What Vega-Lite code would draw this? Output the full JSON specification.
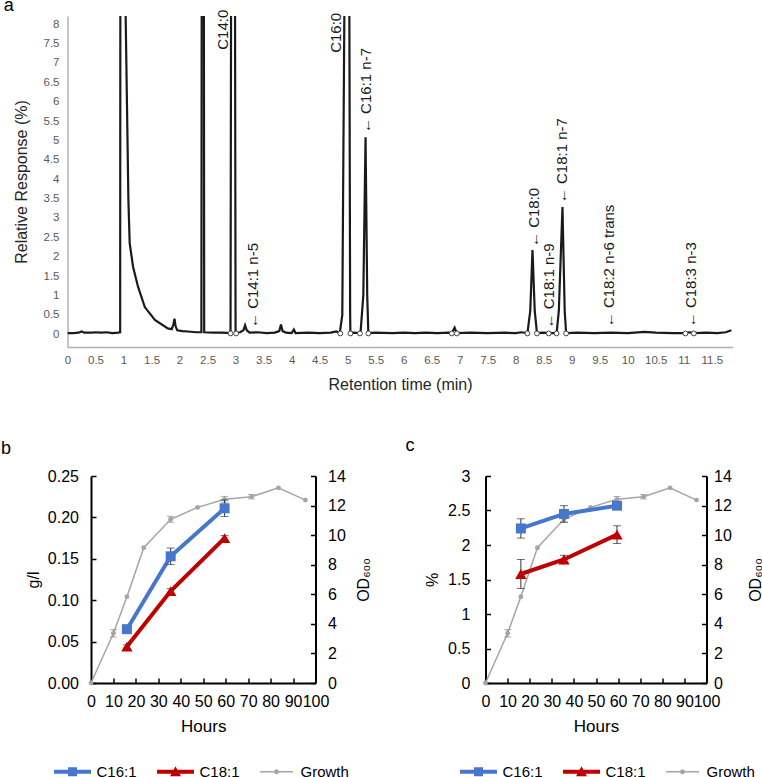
{
  "$schema": "https://vega.github.io/schema/vega-lite/v6.json",
  "padding": {"left": 0.5, "top": -4, "right": 0, "bottom": 0},
  "config": {
    "font": "Liberation Sans",
    "view": {"stroke": null},
    "axis": {"labelFont": "Liberation Sans", "titleFont": "Liberation Sans", "grid": false},
    "title": {"font": "Liberation Sans", "fontWeight": "normal", "color": "black"},
    "text": {"font": "Liberation Sans"},
    "legend": {"labelFont": "Liberation Sans"}
  },
  "datasets": {
    "trace": [
      {"t":0,"r":0.03},{"t":0.1,"r":0.03},{"t":0.2,"r":0.04},{"t":0.25,"r":0.07},{"t":0.3,"r":0.04},{"t":0.45,"r":0.04},{"t":0.5,"r":0.05},{"t":0.6,"r":0.04},{"t":0.7,"r":0.05},{"t":0.8,"r":0.03},{"t":0.9,"r":0.04},{"t":0.94,"r":0.05},
      {"t":0.955,"r":40},{"t":1.0,"r":40},{"t":1.03,"r":9},{"t":1.087,"r":3.46},{"t":1.11,"r":2.35},{"t":1.17,"r":1.74},{"t":1.26,"r":1.22},{"t":1.38,"r":0.7},{"t":1.56,"r":0.37},{"t":1.79,"r":0.15},{"t":1.86,"r":0.13},{"t":1.89,"r":0.25},{"t":1.91,"r":0.4},{"t":1.93,"r":0.2},{"t":1.96,"r":0.1},{"t":2.05,"r":0.08},{"t":2.15,"r":0.07},{"t":2.3,"r":0.05},
      {"t":2.39,"r":0.05},{"t":2.415,"r":40},{"t":2.44,"r":0.05},{"t":2.6,"r":0.04},{"t":2.75,"r":0.04},{"t":2.91,"r":0.03},{"t":2.955,"r":40},{"t":3.0,"r":0.03},{"t":3.08,"r":0.05},{"t":3.14,"r":0.1},{"t":3.17,"r":0.23},{"t":3.2,"r":0.1},{"t":3.25,"r":0.04},{"t":3.4,"r":0.05},{"t":3.55,"r":0.03},{"t":3.7,"r":0.04},{"t":3.78,"r":0.08},{"t":3.81,"r":0.25},{"t":3.84,"r":0.08},{"t":3.9,"r":0.04},{"t":4.0,"r":0.03},{"t":4.04,"r":0.12},{"t":4.07,"r":0.03},{"t":4.3,"r":0.04},{"t":4.5,"r":0.03},{"t":4.7,"r":0.04},{"t":4.8,"r":0.07},{"t":4.86,"r":0.03},
      {"t":4.905,"r":0.5},{"t":4.945,"r":9},{"t":5.0,"r":40},{"t":5.03,"r":9},{"t":5.045,"r":0.5},{"t":5.05,"r":0.03},{"t":5.1,"r":0.04},{"t":5.23,"r":0.03},{"t":5.28,"r":1.0},{"t":5.32,"r":5.08},{"t":5.35,"r":1.0},{"t":5.37,"r":0.03},{"t":5.5,"r":0.04},{"t":5.8,"r":0.03},{"t":6.0,"r":0.04},{"t":6.2,"r":0.03},{"t":6.4,"r":0.04},{"t":6.6,"r":0.03},{"t":6.8,"r":0.04},{"t":6.86,"r":0.03},{"t":6.91,"r":0.17},{"t":6.95,"r":0.03},{"t":7.2,"r":0.04},{"t":7.5,"r":0.03},{"t":7.8,"r":0.04},{"t":8.0,"r":0.03},{"t":8.1,"r":0.05},
      {"t":8.21,"r":0.03},{"t":8.26,"r":0.6},{"t":8.30,"r":2.17},{"t":8.34,"r":0.6},{"t":8.38,"r":0.03},{"t":8.5,"r":0.04},{"t":8.59,"r":0.03},{"t":8.73,"r":0.03},{"t":8.77,"r":0.6},{"t":8.835,"r":3.28},{"t":8.875,"r":0.6},{"t":8.9,"r":0.03},{"t":9.1,"r":0.04},{"t":9.4,"r":0.03},{"t":9.7,"r":0.04},{"t":10.0,"r":0.03},{"t":10.3,"r":0.06},{"t":10.5,"r":0.04},{"t":10.8,"r":0.03},{"t":11.03,"r":0.03},{"t":11.1,"r":0.05},{"t":11.18,"r":0.03},{"t":11.4,"r":0.04},{"t":11.6,"r":0.03},{"t":11.75,"r":0.05},{"t":11.85,"r":0.1}
    ],
    "marks": [
      {"t":2.91,"r":0.02},{"t":3.01,"r":0.02},{"t":4.87,"r":0.02},{"t":5.05,"r":0.02},{"t":5.22,"r":0.02},{"t":5.37,"r":0.02},{"t":6.86,"r":0.02},{"t":6.95,"r":0.02},{"t":8.21,"r":0.02},{"t":8.38,"r":0.02},{"t":8.59,"r":0.02},{"t":8.73,"r":0.02},{"t":8.9,"r":0.02},{"t":11.03,"r":0.02},{"t":11.18,"r":0.02}
    ],
    "labels": [
      {"t":2.775,"r":7.34,"l":"C14:0"},
      {"t":4.795,"r":7.26,"l":"C16:0"},
      {"t":5.33,"r":5.19,"l":"← C16:1 n-7"},
      {"t":3.31,"r":0.16,"l":"← C14:1 n-5"},
      {"t":8.32,"r":2.25,"l":"← C18:0"},
      {"t":8.59,"r":0.15,"l":"← C18:1 n-9"},
      {"t":8.83,"r":3.38,"l":"← C18:1 n-7"},
      {"t":9.66,"r":0.18,"l":"← C18:2 n-6 trans"},
      {"t":11.13,"r":0.18,"l":"← C18:3 n-3"}
    ],
    "growth": [
      {"s":"Growth","h":0,"v":0},
      {"s":"Growth","h":10,"v":3.36,"lo":3.11,"hi":3.61},
      {"s":"Growth","h":16,"v":5.84},
      {"s":"Growth","h":23.5,"v":9.15},
      {"s":"Growth","h":35.5,"v":11.07,"lo":10.87,"hi":11.27},
      {"s":"Growth","h":47.5,"v":11.88},
      {"s":"Growth","h":59.5,"v":12.42,"lo":12.22,"hi":12.62},
      {"s":"Growth","h":71.5,"v":12.6,"lo":12.45,"hi":12.75},
      {"s":"Growth","h":83.5,"v":13.2},
      {"s":"Growth","h":95.5,"v":12.37}
    ],
    "fab": [
      {"s":"C16:1","h":16,"v":0.065,"lo":0.062,"hi":0.068},
      {"s":"C16:1","h":35.5,"v":0.153,"lo":0.143,"hi":0.163},
      {"s":"C16:1","h":59.5,"v":0.211,"lo":0.201,"hi":0.221},
      {"s":"C18:1","h":16,"v":0.044,"lo":0.042,"hi":0.046},
      {"s":"C18:1","h":35.5,"v":0.111,"lo":0.108,"hi":0.114},
      {"s":"C18:1","h":59.5,"v":0.175,"lo":0.172,"hi":0.178}
    ],
    "fac": [
      {"s":"C16:1","h":16,"v":2.24,"lo":2.10,"hi":2.38},
      {"s":"C16:1","h":35.5,"v":2.45,"lo":2.33,"hi":2.57},
      {"s":"C16:1","h":59.5,"v":2.57,"lo":2.53,"hi":2.61},
      {"s":"C18:1","h":16,"v":1.58,"lo":1.37,"hi":1.79},
      {"s":"C18:1","h":35.5,"v":1.79,"lo":1.73,"hi":1.85},
      {"s":"C18:1","h":59.5,"v":2.15,"lo":2.02,"hi":2.28}
    ]
  },
  "bounds": "flush",
  "spacing": 129,
  "vconcat": [
    {
      "width": 665,
      "height": 331,
      "title": {"text": "a", "anchor": "start", "frame": "group", "dx": -63.7, "offset": -19, "baseline": "alphabetic", "fontSize": 18},
      "encoding": {
        "x": {"field": "t", "type": "quantitative", "scale": {"domain": [0, 11.87], "nice": false},
          "axis": {"values": [0,0.5,1,1.5,2,2.5,3,3.5,4,4.5,5,5.5,6,6.5,7,7.5,8,8.5,9,9.5,10,10.5,11,11.5], "format": "~g", "ticks": false, "domainColor": "#b0b0b0", "domainWidth": 1.5, "labelColor": "#595959", "labelFontSize": 11.5, "labelPadding": 7, "labelFlush": false, "labelOverlap": false, "title": "Retention time (min)", "titleFontSize": 16, "titleFontWeight": "normal", "titleColor": "#262626", "titlePadding": 11}},
        "y": {"field": "r", "type": "quantitative", "scale": {"domain": [-0.33, 8.21], "nice": false, "zero": false},
          "axis": {"values": [0,0.5,1,1.5,2,2.5,3,3.5,4,4.5,5,5.5,6,6.5,7,7.5,8], "format": "~g", "ticks": false, "domainColor": "#b0b0b0", "domainWidth": 1.5, "labelColor": "#595959", "labelFontSize": 11.5, "labelPadding": 8.5, "labelOverlap": false, "title": "Relative Response (%)", "titleFontSize": 16, "titleFontWeight": "normal", "titleColor": "#262626", "titlePadding": 14}}
      },
      "layer": [
        {"data": {"name": "trace"}, "mark": {"type": "line", "color": "#1a1a1a", "strokeWidth": 2.2, "clip": true}},
        {"data": {"name": "marks"}, "mark": {"type": "point", "shape": "circle", "filled": true, "fill": "white", "stroke": "#444444", "strokeWidth": 1, "size": 24, "opacity": 1}},
        {"data": {"name": "labels"}, "mark": {"type": "text", "angle": 270, "align": "left", "baseline": "middle", "fontSize": 15, "color": "#1a1a1a"}, "encoding": {"text": {"field": "l", "type": "nominal"}}}
      ]
    },
    {
      "hconcat": [
        {
          "width": 248,
          "height": 207,
          "title": {"text": "b", "anchor": "start", "frame": "group", "dx": -66.5, "offset": -4, "baseline": "alphabetic", "fontSize": 18},
          "encoding": {
            "x": {"field": "h", "type": "quantitative", "scale": {"domain": [0, 100], "range": [23.5, 248], "nice": false},
              "axis": {"values": [0,10,20,30,40,50,60,70,80,90,100], "tickSize": -5, "tickWidth": 1.5, "tickColor": "black", "domainColor": "black", "domainWidth": 2, "labelFontSize": 16, "labelColor": "black", "labelPadding": 15.5, "labelFlush": false, "labelOverlap": false, "title": "Hours", "titleFontSize": 17, "titleFontWeight": "normal", "titleColor": "black", "titlePadding": 9}}
          },
          "layer": [
            {
              "data": {"name": "growth"},
              "encoding": {"y": {"field": "v", "type": "quantitative", "scale": {"domain": [0, 14], "nice": false},
                "axis": {"orient": "right", "values": [0,2,4,6,8,10,12,14], "tickSize": -5, "tickWidth": 1.5, "tickColor": "black", "domainColor": "black", "domainWidth": 2, "labelFontSize": 16, "labelColor": "black", "labelPadding": 17, "title": "OD₆₀₀", "titleAngle": 270, "titleBaseline": "top", "titleFontSize": 16, "titleFontWeight": "normal", "titleColor": "black", "titlePadding": 10}}},
              "layer": [
                {"mark": {"type": "line", "color": "#a5a5a5", "strokeWidth": 1.5}},
                {"transform": [{"filter": "isValid(datum.lo)"}], "mark": {"type": "errorbar", "ticks": true, "size": 7, "thickness": 1, "color": "#8c8c8c"},
                  "encoding": {"y": {"field": "lo", "type": "quantitative", "scale": {"domain": [0, 14], "nice": false},
                    "axis": {"orient": "right", "values": [0,2,4,6,8,10,12,14], "tickSize": -5, "tickWidth": 1.5, "tickColor": "black", "domainColor": "black", "domainWidth": 2, "labelFontSize": 16, "labelColor": "black", "labelPadding": 17, "title": "OD₆₀₀", "titleAngle": 270, "titleBaseline": "top", "titleFontSize": 16, "titleFontWeight": "normal", "titleColor": "black", "titlePadding": 10}},
                    "y2": {"field": "hi"}}},
                {"mark": {"type": "circle", "color": "#a5a5a5", "size": 24, "opacity": 1}}
              ]
            },
            {
              "data": {"name": "fab"},
              "encoding": {"y": {"field": "v", "type": "quantitative", "scale": {"domain": [0, 0.25], "nice": false},
                "axis": {"orient": "left", "offset": -23.5, "values": [0,0.05,0.1,0.15,0.2,0.25], "format": ".2f", "tickSize": -5, "tickWidth": 1.5, "tickColor": "black", "domainColor": "black", "domainWidth": 2, "labelFontSize": 16, "labelColor": "black", "labelPadding": 17.5, "title": "g/l", "titleFontSize": 16, "titleFontWeight": "normal", "titleColor": "black", "titlePadding": 6}}},
              "layer": [
                {"transform": [{"filter": "datum.s === 'C16:1'"}], "mark": {"type": "line", "color": "#4677cc", "strokeWidth": 4}},
                {"transform": [{"filter": "datum.s === 'C18:1'"}], "mark": {"type": "line", "color": "#c00000", "strokeWidth": 4}},
                {"mark": {"type": "errorbar", "ticks": true, "size": 8, "thickness": 1, "color": "#333333"},
                  "encoding": {"y": {"field": "lo", "type": "quantitative", "scale": {"domain": [0, 0.25], "nice": false},
                    "axis": {"orient": "left", "offset": -23.5, "values": [0,0.05,0.1,0.15,0.2,0.25], "format": ".2f", "tickSize": -5, "tickWidth": 1.5, "tickColor": "black", "domainColor": "black", "domainWidth": 2, "labelFontSize": 16, "labelColor": "black", "labelPadding": 17.5, "title": "g/l", "titleFontSize": 16, "titleFontWeight": "normal", "titleColor": "black", "titlePadding": 6}},
                    "y2": {"field": "hi"}}},
                {"transform": [{"filter": "datum.s === 'C16:1'"}], "mark": {"type": "square", "color": "#4677cc", "size": 100, "opacity": 1}},
                {"transform": [{"filter": "datum.s === 'C18:1'"}], "mark": {"type": "point", "shape": "triangle-up", "filled": true, "color": "#c00000", "size": 130, "opacity": 1}}
              ]
            },
            {
              "data": {"values": []},
              "mark": {"type": "point", "filled": true, "opacity": 1},
              "encoding": {
                "color": {"field": "s", "type": "nominal", "scale": {"domain": ["C16:1", "C18:1", "Growth"], "range": ["#4677cc", "#c00000", "#a5a5a5"]},
                  "legend": {"orient": "none", "legendX": -2.5, "legendY": 288, "direction": "horizontal", "title": null, "labelFontSize": 15, "labelColor": "black", "symbolSize": 100, "symbolStrokeWidth": 0, "symbolOpacity": 1, "labelOffset": 16.5, "columnPadding": 20, "padding": 0}},
                "shape": {"field": "s", "type": "nominal", "scale": {"domain": ["C16:1", "C18:1", "Growth"], "range": ["M-3.7,-0.4H3.7V0.4H-3.7Z M-0.9,-0.9H0.9V0.9H-0.9Z", "M-3.7,-0.4H3.7V0.4H-3.7Z M0,-1.1L1.1,0.9H-1.1Z", "M-3.3,-0.14H3.3V0.14H-3.3Z M0.5,0A0.5,0.5 0 1,1 -0.5,0A0.5,0.5 0 1,1 0.5,0Z"]},
                  "legend": {"orient": "none", "legendX": -2.5, "legendY": 288, "direction": "horizontal", "title": null, "labelFontSize": 15, "labelColor": "black", "symbolSize": 100, "symbolStrokeWidth": 0, "symbolOpacity": 1, "labelOffset": 16.5, "columnPadding": 20, "padding": 0}}
              }
            }
          ],
          "resolve": {"scale": {"y": "independent"}, "axis": {"y": "independent"}}
        },
        {
          "width": 221,
          "height": 207,
          "title": {"text": "c", "anchor": "start", "frame": "group", "dx": -80, "offset": -1, "baseline": "alphabetic", "fontSize": 18},
          "encoding": {
            "x": {"field": "h", "type": "quantitative", "scale": {"domain": [0, 100], "nice": false},
              "axis": {"values": [0,10,20,30,40,50,60,70,80,90,100], "tickSize": -5, "tickWidth": 1.5, "tickColor": "black", "domainColor": "black", "domainWidth": 2, "labelFontSize": 16, "labelColor": "black", "labelPadding": 15.5, "labelFlush": false, "labelOverlap": false, "title": "Hours", "titleFontSize": 17, "titleFontWeight": "normal", "titleColor": "black", "titlePadding": 9}}
          },
          "layer": [
            {
              "data": {"name": "growth"},
              "encoding": {"y": {"field": "v", "type": "quantitative", "scale": {"domain": [0, 14], "nice": false},
                "axis": {"orient": "right", "values": [0,2,4,6,8,10,12,14], "tickSize": -5, "tickWidth": 1.5, "tickColor": "black", "domainColor": "black", "domainWidth": 2, "labelFontSize": 16, "labelColor": "black", "labelPadding": 12, "title": "OD₆₀₀", "titleAngle": 270, "titleBaseline": "top", "titleFontSize": 16, "titleFontWeight": "normal", "titleColor": "black", "titlePadding": 16}}},
              "layer": [
                {"mark": {"type": "line", "color": "#a5a5a5", "strokeWidth": 1.5}},
                {"transform": [{"filter": "isValid(datum.lo)"}], "mark": {"type": "errorbar", "ticks": true, "size": 7, "thickness": 1, "color": "#8c8c8c"},
                  "encoding": {"y": {"field": "lo", "type": "quantitative", "scale": {"domain": [0, 14], "nice": false},
                    "axis": {"orient": "right", "values": [0,2,4,6,8,10,12,14], "tickSize": -5, "tickWidth": 1.5, "tickColor": "black", "domainColor": "black", "domainWidth": 2, "labelFontSize": 16, "labelColor": "black", "labelPadding": 12, "title": "OD₆₀₀", "titleAngle": 270, "titleBaseline": "top", "titleFontSize": 16, "titleFontWeight": "normal", "titleColor": "black", "titlePadding": 16}},
                    "y2": {"field": "hi"}}},
                {"mark": {"type": "circle", "color": "#a5a5a5", "size": 24, "opacity": 1}}
              ]
            },
            {
              "data": {"name": "fac"},
              "encoding": {"y": {"field": "v", "type": "quantitative", "scale": {"domain": [0, 3], "nice": false},
                "axis": {"orient": "left", "values": [0,0.5,1,1.5,2,2.5,3], "format": "~g", "tickSize": -5, "tickWidth": 1.5, "tickColor": "black", "domainColor": "black", "domainWidth": 2, "labelFontSize": 16, "labelColor": "black", "labelPadding": 20.7, "title": "%", "titleFontSize": 16, "titleFontWeight": "normal", "titleColor": "black", "titlePadding": 7}}},
              "layer": [
                {"transform": [{"filter": "datum.s === 'C16:1'"}], "mark": {"type": "line", "color": "#4677cc", "strokeWidth": 4}},
                {"transform": [{"filter": "datum.s === 'C18:1'"}], "mark": {"type": "line", "color": "#c00000", "strokeWidth": 4}},
                {"mark": {"type": "errorbar", "ticks": true, "size": 8, "thickness": 1, "color": "#333333"},
                  "encoding": {"y": {"field": "lo", "type": "quantitative", "scale": {"domain": [0, 3], "nice": false},
                    "axis": {"orient": "left", "values": [0,0.5,1,1.5,2,2.5,3], "format": "~g", "tickSize": -5, "tickWidth": 1.5, "tickColor": "black", "domainColor": "black", "domainWidth": 2, "labelFontSize": 16, "labelColor": "black", "labelPadding": 20.7, "title": "%", "titleFontSize": 16, "titleFontWeight": "normal", "titleColor": "black", "titlePadding": 7}},
                    "y2": {"field": "hi"}}},
                {"transform": [{"filter": "datum.s === 'C16:1'"}], "mark": {"type": "square", "color": "#4677cc", "size": 100, "opacity": 1}},
                {"transform": [{"filter": "datum.s === 'C18:1'"}], "mark": {"type": "point", "shape": "triangle-up", "filled": true, "color": "#c00000", "size": 130, "opacity": 1}}
              ]
            },
            {
              "data": {"values": []},
              "mark": {"type": "point", "filled": true, "opacity": 1},
              "encoding": {
                "color": {"field": "s", "type": "nominal", "scale": {"domain": ["C16:1", "C18:1", "Growth"], "range": ["#4677cc", "#c00000", "#a5a5a5"]},
                  "legend": {"orient": "none", "legendX": -14.5, "legendY": 288, "direction": "horizontal", "title": null, "labelFontSize": 15, "labelColor": "black", "symbolSize": 100, "symbolStrokeWidth": 0, "symbolOpacity": 1, "labelOffset": 16.5, "columnPadding": 20, "padding": 0}},
                "shape": {"field": "s", "type": "nominal", "scale": {"domain": ["C16:1", "C18:1", "Growth"], "range": ["M-3.7,-0.4H3.7V0.4H-3.7Z M-0.9,-0.9H0.9V0.9H-0.9Z", "M-3.7,-0.4H3.7V0.4H-3.7Z M0,-1.1L1.1,0.9H-1.1Z", "M-3.3,-0.14H3.3V0.14H-3.3Z M0.5,0A0.5,0.5 0 1,1 -0.5,0A0.5,0.5 0 1,1 0.5,0Z"]},
                  "legend": {"orient": "none", "legendX": -14.5, "legendY": 288, "direction": "horizontal", "title": null, "labelFontSize": 15, "labelColor": "black", "symbolSize": 100, "symbolStrokeWidth": 0, "symbolOpacity": 1, "labelOffset": 16.5, "columnPadding": 20, "padding": 0}}
              }
            }
          ],
          "resolve": {"scale": {"y": "independent"}, "axis": {"y": "independent"}}
        }
      ],
      "bounds": "flush",
      "spacing": 170,
      "resolve": {"scale": {"color": "independent", "shape": "independent"}, "legend": {"color": "independent", "shape": "independent"}}
    }
  ]
}
